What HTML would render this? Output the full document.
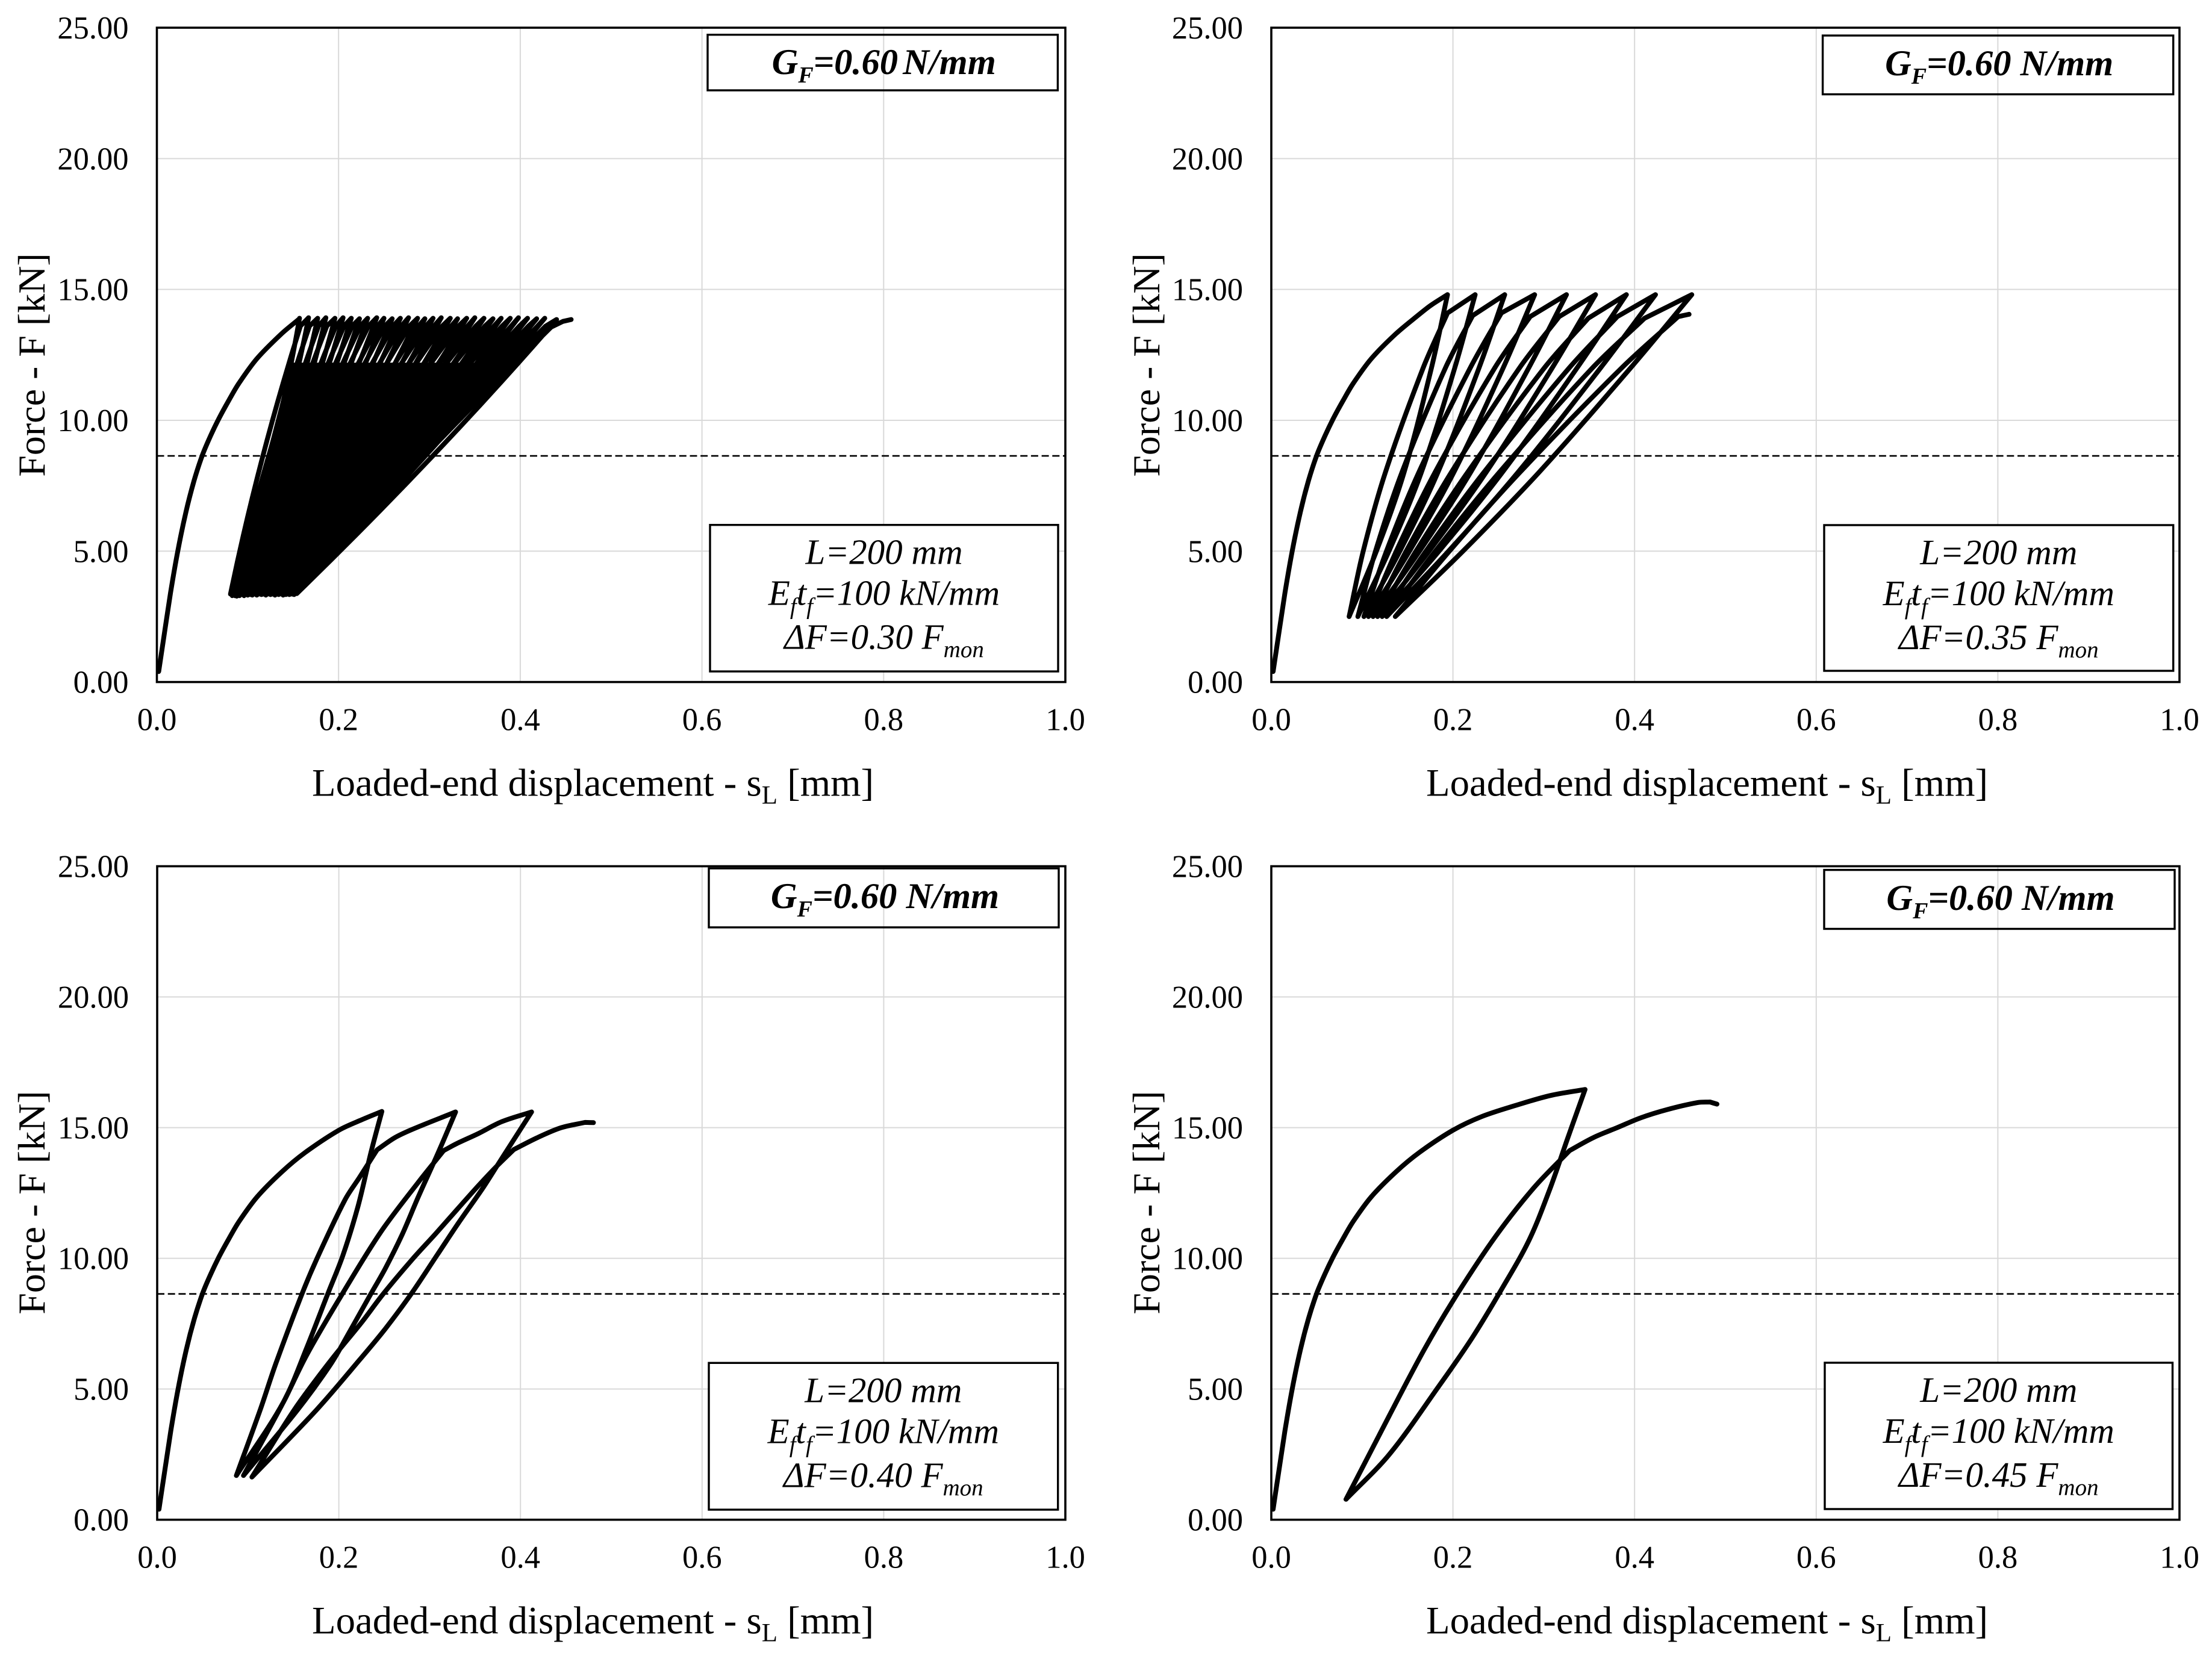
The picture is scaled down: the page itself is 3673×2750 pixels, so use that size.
<!DOCTYPE html>
<html lang="en">
<head>
<meta charset="utf-8">
<title>Force versus loaded-end displacement, four fatigue load ranges</title>
<style>
  html, body { margin: 0; padding: 0; background: #ffffff; }
  svg { display: block; font-family: "Liberation Serif", serif; fill: #000000; }
</style>
</head>
<body>
<svg id="figure" xmlns="http://www.w3.org/2000/svg" width="3673" height="2750" viewBox="0 0 3673 2750">
  <rect x="0" y="0" width="3673" height="2750" fill="#ffffff"></rect>
</svg>
<script>
/* ---------- shared axis values ---------- */
const xTicks = [0, 0.2, 0.4, 0.6, 0.8, 1.0];
const xTickLabels = ['0.0', '0.2', '0.4', '0.6', '0.8', '1.0'];
const yTicks = [0, 5, 10, 15, 20, 25];
const yTickLabels = ['0.00', '5.00', '10.00', '15.00', '20.00', '25.00'];
const xMax = 1.0;
const yMax = 25;
const referenceForce = 8.64;

/* ---------- panel A: dF = 0.30 Fmon, many cycles ---------- */
const envelopeXA = [0.002, 0.008, 0.015, 0.023, 0.032, 0.041, 0.05, 0.059, 0.068, 0.079, 0.09, 0.11, 0.137, 0.157];
const envelopeFA = [0.4, 1.8, 3.4, 5.0, 6.5, 7.7, 8.66, 9.4, 10.05, 10.75, 11.4, 12.35, 13.3, 13.88];
const peakXA = [0.157, 0.167, 0.177, 0.186, 0.196, 0.205, 0.214, 0.223, 0.232, 0.242, 0.250, 0.259, 0.268, 0.277, 0.287, 0.295, 0.304, 0.313, 0.323, 0.331, 0.341, 0.350, 0.360, 0.370, 0.379, 0.389, 0.398, 0.408, 0.418, 0.427, 0.440];
const peakFA = [13.9, 13.92, 13.9, 13.92, 13.9, 13.92, 13.9, 13.88, 13.9, 13.92, 13.9, 13.88, 13.9, 13.92, 13.9, 13.88, 13.9, 13.92, 13.9, 13.88, 13.9, 13.92, 13.9, 13.88, 13.9, 13.9, 13.92, 13.9, 13.88, 13.9, 13.85];
const troughXA = [0.081, 0.083, 0.086, 0.088, 0.091, 0.093, 0.096, 0.098, 0.100, 0.103, 0.105, 0.108, 0.110, 0.112, 0.115, 0.117, 0.120, 0.122, 0.125, 0.127, 0.130, 0.132, 0.134, 0.137, 0.139, 0.142, 0.144, 0.146, 0.149, 0.151, 0.154];
const troughFA = [3.36, 3.3, 3.3, 3.28, 3.3, 3.34, 3.3, 3.36, 3.32, 3.34, 3.32, 3.36, 3.32, 3.36, 3.34, 3.36, 3.32, 3.36, 3.34, 3.36, 3.32, 3.36, 3.34, 3.36, 3.32, 3.34, 3.36, 3.34, 3.36, 3.34, 3.38];
const kneeXA = [0.158, 0.168, 0.178, 0.187, 0.197, 0.206, 0.215, 0.224, 0.233, 0.243, 0.251, 0.260, 0.269, 0.278, 0.288, 0.296, 0.305, 0.314, 0.324, 0.332, 0.342, 0.351, 0.361, 0.371, 0.380, 0.390, 0.399, 0.409, 0.419, 0.428, 0.434];
const kneeFA = [13.6, 13.6, 13.6, 13.6, 13.6, 13.6, 13.6, 13.6, 13.6, 13.6, 13.6, 13.6, 13.6, 13.6, 13.6, 13.6, 13.6, 13.6, 13.6, 13.6, 13.6, 13.6, 13.6, 13.6, 13.6, 13.6, 13.6, 13.6, 13.6, 13.6, 13.56];
const tailXA = [0.447, 0.456];
const tailFA = [13.78, 13.85];
const unloadBowA = 0.006;
const reloadBowA = -0.004;
const denseBandTopFA = 12.2;

/* ---------- panel B: dF = 0.35 Fmon ---------- */
const curveXB = [0.002, 0.008, 0.015, 0.023, 0.032, 0.041, 0.05, 0.059, 0.068, 0.079, 0.09, 0.11, 0.137, 0.163, 0.176, 0.194,
  0.1763, 0.1461, 0.1157, 0.0857, 0.1012, 0.1255, 0.1672, 0.194, 0.2245,
  0.202, 0.1651, 0.1295, 0.0953, 0.1147, 0.1437, 0.1917, 0.2217, 0.257,
  0.2287, 0.1833, 0.1415, 0.102, 0.1268, 0.1623, 0.219, 0.2533, 0.290,
  0.2553, 0.2008, 0.1521, 0.107, 0.1376, 0.1801, 0.246, 0.285, 0.325,
  0.2834, 0.2192, 0.1632, 0.112, 0.1485, 0.198, 0.2733, 0.317, 0.357,
  0.3093, 0.2363, 0.1737, 0.117, 0.1593, 0.2159, 0.3006, 0.349, 0.391,
  0.3367, 0.2542, 0.1846, 0.122, 0.1702, 0.2338, 0.328, 0.381, 0.423,
  0.3625, 0.2713, 0.1951, 0.127, 0.1806, 0.2508, 0.3536, 0.411, 0.463,
  0.3956, 0.2944, 0.211, 0.1365, 0.1961, 0.2734, 0.3858, 0.448, 0.46];
const curveFB = [0.4, 1.8, 3.4, 5.0, 6.5, 7.7, 8.66, 9.4, 10.05, 10.75, 11.4, 12.35, 13.3, 14.05, 14.4, 14.8,
  12, 8, 5, 2.5, 5, 8, 12, 14.1, 14.8,
  12, 8, 5, 2.5, 5, 8, 12, 14.0, 14.8,
  12, 8, 5, 2.5, 5, 8, 12, 14.1, 14.8,
  12, 8, 5, 2.5, 5, 8, 12, 13.96, 14.8,
  12, 8, 5, 2.5, 5, 8, 12, 13.96, 14.8,
  12, 8, 5, 2.5, 5, 8, 12, 13.9, 14.8,
  12, 8, 5, 2.5, 5, 8, 12, 13.96, 14.8,
  12, 8, 5, 2.5, 5, 8, 12, 13.9, 14.8,
  12, 8, 5, 2.5, 5, 8, 12, 13.96, 14.05];

/* ---------- panel C: dF = 0.40 Fmon ---------- */
const curveXC = [0.002, 0.008, 0.015, 0.023, 0.032, 0.041, 0.05, 0.059, 0.068, 0.079, 0.09, 0.11, 0.137, 0.163, 0.2, 0.2251, 0.2474,
  0.2356, 0.2212, 0.2042, 0.1885, 0.1649, 0.1387, 0.0872,
  0.1139, 0.1309, 0.1597, 0.1754, 0.2068, 0.2225, 0.2421, 0.2618, 0.2827, 0.3286,
  0.3089, 0.288, 0.2696, 0.2513, 0.233, 0.212, 0.1911, 0.1545, 0.095,
  0.1387, 0.1649, 0.2042, 0.2461, 0.288, 0.3154, 0.3298, 0.3534, 0.3796, 0.4123,
  0.3743, 0.3573, 0.3325, 0.3089, 0.2801, 0.2513, 0.2225, 0.1754, 0.1043,
  0.1518, 0.1911, 0.2251, 0.2487, 0.2801, 0.3063, 0.3298, 0.3534, 0.3743, 0.3927, 0.4188, 0.445, 0.4712, 0.4804];
const curveFC = [0.4, 1.8, 3.4, 5.0, 6.5, 7.7, 8.66, 9.4, 10.05, 10.75, 11.4, 12.35, 13.3, 14.05, 14.9, 15.3, 15.62,
  14.08, 12.0, 10.08, 8.7, 6.6, 4.48, 1.69,
  4.25, 6.0, 8.66, 9.95, 12.24, 13.08, 14.15, 14.62, 14.96, 15.6,
  14.0, 12.39, 10.9, 9.62, 8.5, 7.2, 5.95, 4.2, 1.69,
  4.48, 6.32, 8.66, 11.0, 12.93, 14.12, 14.39, 14.77, 15.23, 15.6,
  13.54, 12.62, 11.39, 10.16, 8.66, 7.31, 6.1, 4.2, 1.63,
  4.25, 6.09, 7.55, 8.63, 9.93, 10.93, 11.85, 12.77, 13.54, 14.16, 14.62, 15.0, 15.2, 15.19];

/* ---------- panel D: dF = 0.45 Fmon ---------- */
const curveXD = [0.002, 0.008, 0.015, 0.023, 0.032, 0.041, 0.05, 0.059, 0.068, 0.079, 0.09, 0.11, 0.137, 0.163, 0.2, 0.2315, 0.2682, 0.3075, 0.3455,
  0.3258, 0.3062, 0.2839, 0.255, 0.221, 0.1843, 0.13, 0.0822,
  0.1302, 0.169, 0.2052, 0.2472, 0.2891, 0.3284,
  0.3547, 0.3809, 0.4071, 0.4359, 0.4695, 0.483, 0.4907];
const curveFD = [0.4, 1.8, 3.4, 5.0, 6.5, 7.7, 8.66, 9.4, 10.05, 10.75, 11.4, 12.35, 13.3, 14.05, 14.9, 15.42, 15.84, 16.23, 16.46,
  14.54, 12.6, 10.7, 8.9, 6.95, 5.1, 2.5, 0.78,
  4.0, 6.55, 8.66, 10.85, 12.7, 14.12,
  14.62, 15.0, 15.38, 15.69, 15.96, 15.98, 15.9];

/* ---------- annotation values ---------- */
const loadRangeLabels = ['0.30', '0.35', '0.40', '0.45'];
const fractureEnergyLabel = '0.60';

/* ---------- panel placement (pixels) ---------- */
const panelLayouts = [
  { id: 'a', left: 260.5, right: 1769, top: 46, bottom: 1132.6, titleX: 74, titleY: 606, xTitleX: 518,
    gf: [1175, 57.7, 1756.4, 150], info: [1179, 871.7, 1757, 1115], gfBase: 123, gfWordGap: -7 },
  { id: 'b', left: 2111, right: 3619, top: 46, bottom: 1132.6, titleX: 1925, titleY: 606, xTitleX: 2368,
    gf: [3026.6, 59, 3608.7, 156.6], info: [3029, 872, 3608.7, 1114], gfBase: 125, gfWordGap: 0 },
  { id: 'c', left: 261, right: 1769, top: 1438.5, bottom: 2523.7, titleX: 74, titleY: 1997, xTitleX: 518,
    gf: [1177, 1442, 1758, 1540], info: [1177, 2263.3, 1756.7, 2507], gfBase: 1508, gfWordGap: 0 },
  { id: 'd', left: 2111, right: 3619, top: 1438.5, bottom: 2523.7, titleX: 1925, titleY: 1997, xTitleX: 2368,
    gf: [3029, 1444.6, 3611, 1542.5], info: [3030, 2263, 3607.5, 2506], gfBase: 1511, gfWordGap: 0 }
];

const SVG_NS = 'http://www.w3.org/2000/svg';
const figure = document.getElementById('figure');
const cornerAngle = 14 * Math.PI / 180;

function make(tag, attrs, parent, text) {
  const el = document.createElementNS(SVG_NS, tag);
  for (const key in attrs) el.setAttribute(key, attrs[key]);
  if (text !== undefined) el.textContent = text;
  parent.appendChild(el);
  return el;
}

/* Smooth curve through the data points; sharp turns stay as corners. */
function smoothPath(xs, fs, sx, sy) {
  const pts = xs.map(function (v, i) { return [sx(v), sy(fs[i])]; });
  const n = pts.length;
  const tangents = pts.map(function (p, i) {
    if (i === 0 || i === n - 1) return null;
    const a = pts[i - 1], b = pts[i + 1];
    const inAngle = Math.atan2(p[1] - a[1], p[0] - a[0]);
    const outAngle = Math.atan2(b[1] - p[1], b[0] - p[0]);
    let turn = Math.abs(outAngle - inAngle);
    if (turn > Math.PI) turn = 2 * Math.PI - turn;
    if (turn > cornerAngle) return null;
    const dx = b[0] - a[0], dy = b[1] - a[1];
    const len = Math.hypot(dx, dy) || 1;
    return [dx / len, dy / len];
  });
  let d = 'M' + pts[0][0].toFixed(1) + ' ' + pts[0][1].toFixed(1);
  for (let i = 0; i < n - 1; i++) {
    const p = pts[i], q = pts[i + 1];
    const seg = Math.hypot(q[0] - p[0], q[1] - p[1]);
    const h = seg / 3;
    const dirX = (q[0] - p[0]) / (seg || 1), dirY = (q[1] - p[1]) / (seg || 1);
    const t0 = tangents[i] || [dirX, dirY];
    const t1 = tangents[i + 1] || [dirX, dirY];
    d += 'C' + (p[0] + t0[0] * h).toFixed(1) + ' ' + (p[1] + t0[1] * h).toFixed(1) + ' ' +
      (q[0] - t1[0] * h).toFixed(1) + ' ' + (q[1] - t1[1] * h).toFixed(1) + ' ' +
      q[0].toFixed(1) + ' ' + q[1].toFixed(1);
  }
  return d;
}

function bowedSegment(x0, f0, x1, f1, bow, sx, sy) {
  const cx = (x0 + x1) / 2 + 2 * bow;
  const cf = (f0 + f1) / 2;
  return 'Q' + sx(cx).toFixed(1) + ' ' + sy(cf).toFixed(1) + ' ' + sx(x1).toFixed(1) + ' ' + sy(f1).toFixed(1);
}

function manyCyclesPath(sx, sy) {
  let d = smoothPath(envelopeXA, envelopeFA, sx, sy);
  for (let i = 0; i < peakXA.length; i++) {
    d += 'L' + sx(peakXA[i]).toFixed(1) + ' ' + sy(peakFA[i]).toFixed(1);
    d += bowedSegment(peakXA[i], peakFA[i], troughXA[i], troughFA[i], unloadBowA, sx, sy);
    d += bowedSegment(troughXA[i], troughFA[i], kneeXA[i], kneeFA[i], reloadBowA, sx, sy);
  }
  for (let i = 0; i < tailXA.length; i++) {
    d += 'L' + sx(tailXA[i]).toFixed(1) + ' ' + sy(tailFA[i]).toFixed(1);
  }
  return d;
}

/* Solid region where the overlapping cycles of panel A merge into black. */
function denseBandPath(sx, sy) {
  const last = peakXA.length - 1;
  const t0 = (denseBandTopFA - troughFA[0]) / (kneeFA[0] - troughFA[0]);
  const leftX = troughXA[0] + (kneeXA[0] - troughXA[0]) * t0;
  const t1 = (denseBandTopFA - troughFA[last]) / (peakFA[last] - troughFA[last]);
  const rightX = troughXA[last] + (peakXA[last] - troughXA[last]) * t1;
  return 'M' + sx(troughXA[0]).toFixed(1) + ' ' + sy(troughFA[0]).toFixed(1) +
    'L' + sx(leftX).toFixed(1) + ' ' + sy(denseBandTopFA).toFixed(1) +
    'L' + sx(rightX).toFixed(1) + ' ' + sy(denseBandTopFA).toFixed(1) +
    'L' + sx(troughXA[last]).toFixed(1) + ' ' + sy(troughFA[last]).toFixed(1) + 'Z';
}

function seriesPath(id, sx, sy) {
  if (id === 'a') return manyCyclesPath(sx, sy);
  if (id === 'b') return smoothPath(curveXB, curveFB, sx, sy);
  if (id === 'c') return smoothPath(curveXC, curveFC, sx, sy);
  return smoothPath(curveXD, curveFD, sx, sy);
}

panelLayouts.forEach(function (p, index) {
  const sx = function (v) { return p.left + (v / xMax) * (p.right - p.left); };
  const sy = function (v) { return p.bottom - (v / yMax) * (p.bottom - p.top); };

  const panel = make('g', {}, figure);
  
  

  /* gridlines */
  xTicks.forEach(function (v) {
    if (v === 0 || v === xMax) return;
    const line = make('line', { x1: sx(v), x2: sx(v), y1: p.top, y2: p.bottom, stroke: '#d9d9d9', 'stroke-width': 2 }, panel);
    
    
  });
  yTicks.forEach(function (v) {
    if (v === 0 || v === yMax) return;
    const line = make('line', { x1: p.left, x2: p.right, y1: sy(v), y2: sy(v), stroke: '#d9d9d9', 'stroke-width': 2 }, panel);
    
    
  });

  /* reference force line */
  const ref = make('line', { x1: p.left, x2: p.right, y1: sy(referenceForce), y2: sy(referenceForce), stroke: '#000000', 'stroke-width': 2.6, 'stroke-dasharray': '12 5.7' }, panel);
  
  

  /* load-displacement series */
  if (p.id === 'a') {
    const band = make('path', { d: denseBandPath(sx, sy), fill: '#000000', stroke: 'none' }, panel);
    
    
  }
  const curve = make('path', { d: seriesPath(p.id, sx, sy), fill: 'none', stroke: '#000000', 'stroke-width': 8, 'stroke-linejoin': 'round', 'stroke-linecap': 'round' }, panel);
  
  

  /* plot frame */
  const frame = make('rect', { x: p.left, y: p.top, width: p.right - p.left, height: p.bottom - p.top, fill: 'none', stroke: '#000000', 'stroke-width': 3.6 }, panel);
  
  

  /* tick labels */
  xTicks.forEach(function (v, i) {
    const t = make('text', { x: sx(v), y: p.bottom + 80, 'text-anchor': 'middle', 'font-size': 52.5 }, panel, xTickLabels[i]);
    
    
  });
  yTicks.forEach(function (v, i) {
    const t = make('text', { x: p.left - 47, y: sy(v) + 18, 'text-anchor': 'end', 'font-size': 52.5 }, panel, yTickLabels[i]);
    
    
  });

  /* axis titles */
  const xTitle = make('text', { x: p.xTitleX, y: p.bottom + 189, 'font-size': 64.8 }, panel);
  
  
  make('tspan', {}, xTitle, 'Loaded-end displacement - s');
  make('tspan', { 'font-size': 43, dy: 13 }, xTitle, 'L');
  make('tspan', { dy: -13 }, xTitle, ' [mm]');

  const yTitle = make('text', { x: p.titleX, y: p.titleY, 'text-anchor': 'middle', 'font-size': 64, transform: 'rotate(-90 ' + p.titleX + ' ' + p.titleY + ')' }, panel, 'Force - F [kN]');
  
  

  /* fracture energy box */
  const gfRect = make('rect', { x: p.gf[0], y: p.gf[1], width: p.gf[2] - p.gf[0], height: p.gf[3] - p.gf[1], fill: 'none', stroke: '#000000', 'stroke-width': 3.4 }, panel);
  
  

  const gfText = make('text', { x: (p.gf[0] + p.gf[2]) / 2 + 2, y: p.gfBase, 'text-anchor': 'middle', 'font-size': 60.5, 'font-weight': 'bold', 'font-style': 'italic', 'word-spacing': p.gfWordGap }, panel);
  
  
  make('tspan', {}, gfText, 'G');
  make('tspan', { 'font-size': 38, dy: 14 }, gfText, 'F');
  make('tspan', { dy: -14 }, gfText, '=' + fractureEnergyLabel + ' N/mm');

  /* parameters box */
  const infoRect = make('rect', { x: p.info[0], y: p.info[1], width: p.info[2] - p.info[0], height: p.info[3] - p.info[1], fill: '#ffffff', stroke: '#000000', 'stroke-width': 3.4 }, panel);
  
  

  const cx = (p.info[0] + p.info[2]) / 2;
  const line1 = make('text', { x: cx, y: p.info[1] + 65, 'text-anchor': 'middle', 'font-size': 59, 'font-style': 'italic' }, panel, 'L=200 mm');
  
  

  const line2 = make('text', { x: cx, y: p.info[1] + 133, 'text-anchor': 'middle', 'font-size': 59, 'font-style': 'italic' }, panel);
  
  
  make('tspan', {}, line2, 'E');
  make('tspan', { 'font-size': 39, dy: 15 }, line2, 'f');
  make('tspan', { dy: -15 }, line2, 't');
  make('tspan', { 'font-size': 39, dy: 15 }, line2, 'f');
  make('tspan', { dy: -15 }, line2, '=100 kN/mm');

  const line3 = make('text', { x: cx, y: p.info[1] + 206, 'text-anchor': 'middle', 'font-size': 59, 'font-style': 'italic' }, panel);
  
  
  make('tspan', {}, line3, '\u0394F=' + loadRangeLabels[index] + ' F');
  make('tspan', { 'font-size': 39, dy: 14 }, line3, 'mon');
});
</script>
</body>
</html>
